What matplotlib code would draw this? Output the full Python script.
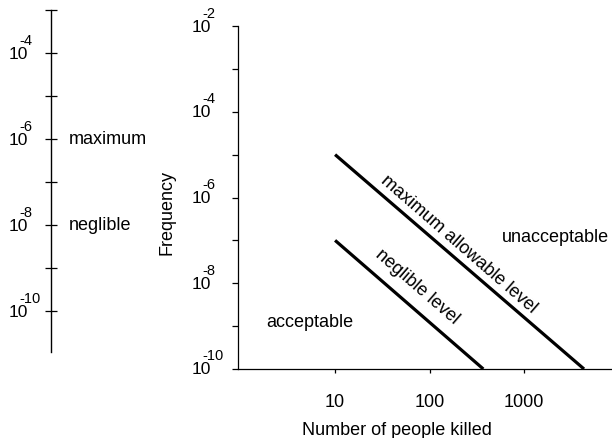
import matplotlib
matplotlib.use('Agg')
import matplotlib.pyplot as plt
from matplotlib.ticker import FixedLocator, NullFormatter, NullLocator

plt.rcParams['font.family'] = ['Liberation Sans', 'DejaVu Sans']

# data
max_x = [10, 4300]
max_y = [1e-5, 1e-10]
neg_x = [10, 370]
neg_y = [1e-7, 1e-10]
x_ticks = [10, 100, 1000]
x_tick_labels = ['10', '100', '1000']
y_exponents = [-10, -9, -8, -7, -6, -5, -4, -3, -2]
left_exponents = [-11, -10, -9, -8, -7, -6, -5, -4, -3]
left_marks = ['maximum', 'neglible']
left_mark_values = [1e-6, 1e-8]

FS = 13
PX = 0.72  # points per pixel at 100 dpi


def power_labels(a, exps, right_px):
    # "10" with a raised exponent, like the old typeset axis
    a.yaxis.set_major_formatter(NullFormatter())
    for e in exps:
        if e % 2:
            continue
        a.annotate('10', xy=(0, 10.0 ** e), xycoords=('axes fraction', 'data'),
                   xytext=(-right_px * PX, -1 * PX), textcoords='offset points',
                   ha='right', va='center', fontsize=12.5)
        a.annotate('-%d' % -e, xy=(0, 10.0 ** e), xycoords=('axes fraction', 'data'),
                   xytext=(-(right_px + 9) * PX, 5.5 * PX), textcoords='offset points',
                   ha='left', va='bottom', fontsize=10.5)


fig = plt.figure(figsize=(6.12, 4.38), dpi=100)

# standalone scale on the left
axl = fig.add_axes([51 / 612, (438 - 352) / 438, 0.01, (352 - 10) / 438])
axl.set_yscale('log')
axl.set_ylim(10 ** -10.95, 1e-3)
for s in ['top', 'right', 'bottom']:
    axl.spines[s].set_visible(False)
axl.spines['left'].set_linewidth(1.0)
axl.set_xticks([])
axl.yaxis.set_major_locator(FixedLocator([10.0 ** e for e in left_exponents]))
axl.yaxis.set_minor_locator(NullLocator())
axl.tick_params(axis='y', direction='inout', length=8, width=0.9)
power_labels(axl, left_exponents, 23)
axl.patch.set_alpha(0)
for name, v in zip(left_marks, left_mark_values):
    axl.annotate(name, xy=(0, v), xycoords=('axes fraction', 'data'),
                 xytext=(13, 0), textcoords='offset points',
                 ha='left', va='center', fontsize=FS)

# main chart
ax = fig.add_axes([238 / 612, (438 - 369) / 438, (612 - 238) / 612, (369 - 26) / 438])
ax.set_xscale('log')
ax.set_yscale('log')
ax.set_xlim(0.94, 8500)
ax.set_ylim(1e-10, 1e-2)
ax.spines['top'].set_visible(False)
ax.spines['right'].set_visible(False)
ax.spines['left'].set_linewidth(0.9)
ax.spines['bottom'].set_linewidth(0.9)

ax.plot(max_x, max_y, color='black', lw=2.3, solid_capstyle='butt')
ax.plot(neg_x, neg_y, color='black', lw=2.3, solid_capstyle='butt')

ax.xaxis.set_major_locator(FixedLocator(x_ticks))
ax.xaxis.set_minor_locator(NullLocator())
ax.set_xticklabels(x_tick_labels)
ax.yaxis.set_major_locator(FixedLocator([10.0 ** e for e in y_exponents]))
ax.yaxis.set_minor_locator(NullLocator())
ax.tick_params(axis='x', direction='out', length=3, width=0.9, labelsize=FS, pad=15)
ax.tick_params(axis='y', direction='out', length=4, width=0.9)
power_labels(ax, y_exponents, 27)

ax.text(205, 7.9e-8, 'maximum allowable level', rotation=-41, rotation_mode='anchor',
        ha='center', va='center', fontsize=FS)
ax.text(74, 8.3e-9, 'neglible level', rotation=-41, rotation_mode='anchor',
        ha='center', va='center', fontsize=FS)
ax.text(2130, 1.15e-7, 'unacceptable', ha='center', va='center', fontsize=FS)
ax.text(5.4, 1.2e-9, 'acceptable', ha='center', va='center', fontsize=FS)

ax.set_ylabel('Frequency', fontsize=FS)
ax.yaxis.set_label_coords(-0.168, 0.455)
ax.set_xlabel('Number of people killed', fontsize=FS)
ax.xaxis.set_label_coords(0.425, -0.155)
ax.patch.set_alpha(0)

fig.savefig('out.png', dpi=100)
